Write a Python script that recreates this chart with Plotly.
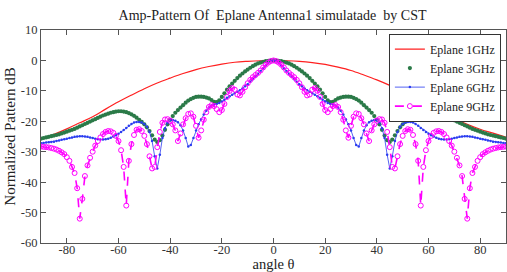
import plotly.graph_objects as go

# ---------------- data ----------------
theta = list(range(-90, 91))          # degrees, 1-degree sampling
red_theta = list(range(-90, 91, 5))   # 1 GHz sampled every 5 degrees

e1ghz = [-25.8, -24.3, -22.5, -20.5, -18.5, -16.0, -13.6, -11.4, -9.3, -7.4,
         -5.8, -4.3, -3.0, -2.0, -1.2, -0.6, -0.3, -0.1, 0.0,
         -0.1, -0.3, -0.7, -1.3, -2.2, -3.3, -4.8, -6.4, -8.2,
         -10.2, -12.3, -14.3, -16.4, -19.0, -21.0, -22.6, -23.9, -25.2]

e3ghz = [-25.7, -25.5, -25.3, -25.1, -24.9, -24.7, -24.5, -24.3, -24.0, -23.7,
         -23.4, -23.1, -22.8, -22.5, -22.1, -21.7, -21.3, -20.9, -20.5, -20.1,
         -19.7, -19.3, -18.9, -18.5, -18.1, -17.8, -17.5, -17.2, -17.0, -16.8,
         -16.7, -16.7, -16.8, -17.0, -17.3, -17.7, -18.2, -18.8, -19.5, -20.2,
         -21.0, -22.0, -23.2, -24.6, -26.0, -26.8, -26.2, -24.7, -22.8, -21.0,
         -19.5, -18.3, -17.2, -16.3, -15.5, -14.7, -13.9, -13.2, -12.7, -12.3,
         -12.0, -11.9, -11.9, -12.0, -12.2, -12.5, -13.0, -13.6, -13.7, -13.1,
         -12.0, -10.8, -9.6, -8.5, -7.6, -6.7, -5.8, -5.0, -4.3, -3.6,
         -3.0, -2.4, -1.9, -1.4, -1.0, -0.7, -0.45, -0.25, -0.1, -0.03,
         0.0,
         -0.03, -0.1, -0.25, -0.45, -0.7, -1.0, -1.4, -1.9, -2.4, -3.0,
         -3.6, -4.3, -5.0, -5.8, -6.7, -7.6, -8.5, -9.6, -10.8, -12.0,
         -13.1, -13.7, -13.6, -13.0, -12.5, -12.2, -12.0, -11.9, -11.9, -12.0,
         -12.3, -12.7, -13.2, -13.9, -14.7, -15.5, -16.3, -17.2, -18.3, -19.5,
         -21.0, -22.8, -24.7, -26.2, -26.8, -26.0, -24.6, -23.2, -22.0, -21.0,
         -20.2, -19.5, -18.8, -18.2, -17.7, -17.3, -17.0, -16.8, -16.7, -16.7,
         -16.8, -17.0, -17.2, -17.5, -17.8, -18.1, -18.5, -18.9, -19.3, -19.7,
         -20.1, -20.5, -20.9, -21.3, -21.7, -22.1, -22.5, -22.8, -23.1, -23.4,
         -23.7, -24.0, -24.3, -24.5, -24.7, -24.9, -25.1, -25.3, -25.5, -25.7]

e6ghz = [-27.2, -27.1, -27.0, -26.9, -26.8, -26.7, -26.5, -26.3, -26.1, -25.9,
         -25.7, -25.5, -25.3, -25.1, -25.0, -24.9, -24.9, -25.0, -25.1, -25.3,
         -25.5, -25.7, -25.9, -26.0, -26.0, -25.9, -25.7, -25.4, -25.0, -24.6,
         -24.1, -23.5, -22.9, -22.2, -21.5, -20.9, -20.4, -20.2, -20.2, -20.4,
         -20.9, -21.8, -23.5, -26.5, -31.5, -35.5, -31.0, -25.5, -22.3, -20.5,
         -19.7, -19.6, -19.8, -20.3, -21.3, -23.0, -25.5, -28.3, -27.8, -25.5,
         -23.0, -21.0, -19.3, -17.8, -16.5, -15.5, -14.8, -14.5, -14.3, -14.0,
         -13.5, -12.9, -12.3, -11.8, -11.3, -10.8, -10.3, -9.8, -9.2, -8.5,
         -7.8, -7.0, -6.2, -5.3, -4.4, -3.5, -2.6, -1.7, -0.8, -0.2,
         0.0,
         -0.2, -0.8, -1.7, -2.6, -3.5, -4.4, -5.3, -6.2, -7.0, -7.8,
         -8.5, -9.2, -9.8, -10.3, -10.8, -11.3, -11.8, -12.3, -12.9, -13.5,
         -14.0, -14.3, -14.5, -14.8, -15.5, -16.5, -17.8, -19.3, -21.0, -23.0,
         -25.5, -27.8, -28.3, -25.5, -23.0, -21.3, -20.3, -19.8, -19.6, -19.7,
         -20.5, -22.3, -25.5, -31.0, -35.5, -31.5, -26.5, -23.5, -21.8, -20.9,
         -20.4, -20.2, -20.2, -20.4, -20.9, -21.5, -22.2, -22.9, -23.5, -24.1,
         -24.6, -25.0, -25.4, -25.7, -25.9, -26.0, -26.0, -25.9, -25.7, -25.5,
         -25.3, -25.1, -25.0, -24.9, -24.9, -25.0, -25.1, -25.3, -25.5, -25.7,
         -25.9, -26.1, -26.3, -26.5, -26.7, -26.8, -26.9, -27.0, -27.1, -27.2]

e9ghz = [-28.3, -28.4, -28.5, -28.6, -28.8, -29.0, -29.3, -29.7, -30.2, -30.8,
         -31.8, -33.0, -35.0, -37.0, -42.0, -52.0, -45.5, -38.0, -34.5, -32.0,
         -30.0, -28.0, -26.5, -25.3, -24.2, -23.5, -23.2, -23.3, -23.8, -24.8,
         -26.5, -29.5, -35.0, -47.7, -33.0, -27.5, -24.5, -22.8, -22.6, -23.2,
         -24.8, -27.5, -31.5, -35.5, -35.0, -28.5, -23.5, -20.5, -19.4, -19.3,
         -19.8, -21.0, -23.0, -26.5, -24.0, -21.0, -19.0, -17.6, -17.4, -18.5,
         -21.5, -25.4, -23.0, -19.5, -17.0, -15.3, -14.7, -15.0, -16.0, -17.0,
         -16.3, -14.3, -12.0, -10.0, -9.1, -9.6, -11.2, -11.5, -10.3, -8.8,
         -7.5, -6.4, -5.5, -4.8, -4.1, -3.3, -2.3, -1.4, -0.7, -0.2,
         0.0,
         -0.2, -0.7, -1.4, -2.3, -3.3, -4.1, -4.8, -5.5, -6.4, -7.5,
         -8.8, -10.3, -11.5, -11.2, -9.6, -9.1, -10.0, -12.0, -14.3, -16.3,
         -17.0, -16.0, -15.0, -14.7, -15.3, -17.0, -19.5, -23.0, -25.4, -21.5,
         -18.5, -17.4, -17.6, -19.0, -21.0, -24.0, -26.5, -23.0, -21.0, -19.8,
         -19.3, -19.4, -20.5, -23.5, -28.5, -35.0, -35.5, -31.5, -27.5, -24.8,
         -23.2, -22.6, -22.8, -24.5, -27.5, -33.0, -47.7, -35.0, -29.5, -26.5,
         -24.8, -23.8, -23.3, -23.2, -23.5, -24.2, -25.3, -26.5, -28.0, -30.0,
         -32.0, -34.5, -38.0, -45.5, -52.0, -42.0, -37.0, -35.0, -33.0, -31.8,
         -30.8, -30.2, -29.7, -29.3, -29.0, -28.8, -28.6, -28.5, -28.4, -28.3]

x_ticks = [-80, -60, -40, -20, 0, 20, 40, 60, 80]
x_tick_labels = ["-80", "-60", "-40", "-20", "0", "20", "40", "60", "80"]
y_ticks = [-60, -50, -40, -30, -20, -10, 0, 10]
y_tick_labels = ["-60", "-50", "-40", "-30", "-20", "-10", "0", "10"]

FONT = "Liberation Serif"

fig = go.Figure()
fig.add_trace(go.Scatter(x=red_theta, y=e1ghz, mode="lines", name="Eplane 1GHz",
                         line=dict(color="#ff2020", width=1.2, shape="spline")))
fig.add_trace(go.Scatter(x=theta, y=e3ghz, mode="markers", name="Eplane 3GHz",
                         marker=dict(color="#2b7a48", size=4.2, symbol="circle")))
fig.add_trace(go.Scatter(x=theta, y=e6ghz, mode="lines+markers", name="Eplane 6GHz",
                         line=dict(color="#2a3cf0", width=0.8),
                         marker=dict(color="#2a3cf0", size=2.5, symbol="circle")))
fig.add_trace(go.Scatter(x=theta, y=e9ghz, mode="lines+markers", name="Eplane 9GHz",
                         line=dict(color="#ff00ff", width=1.6, dash="dash"),
                         marker=dict(color="#ff00ff", size=5, symbol="circle-open",
                                     line=dict(width=1, color="#ff00ff"))))

axis_common = dict(showgrid=False, zeroline=False, showline=True, linecolor="#555",
                   linewidth=1, mirror="ticks", ticks="inside", ticklen=5,
                   tickcolor="#555",
                   tickfont=dict(family=FONT, size=12.5, color="#333"))

fig.update_layout(
    width=507, height=272,
    margin=dict(l=41, r=1, t=30, b=29, autoexpand=False),
    paper_bgcolor="white", plot_bgcolor="white",
    title=dict(text="Amp-Pattern Of\u00a0 Eplane Antenna1 simulatade\u00a0 by CST",
               x=0.5375, xanchor="center", y=0.945, yanchor="middle",
               font=dict(family=FONT, size=14, color="#222")),
    xaxis=dict(range=[-90, 90], tickvals=x_ticks, ticktext=x_tick_labels,
               ticklabelstandoff=-5, automargin=True,
               title=dict(text="angle θ", font=dict(family=FONT, size=14.5, color="#222"),
                          standoff=1),
               **axis_common),
    yaxis=dict(range=[-60, 10], tickvals=y_ticks, ticktext=y_tick_labels,
               automargin=False,
               title=dict(text="Normalized Pattern dB",
                          font=dict(family=FONT, size=15, color="#222"), standoff=1),
               **axis_common),
    legend=dict(x=0.989, y=0.983, xanchor="right", yanchor="top",
                bgcolor="white", bordercolor="#333", borderwidth=1,
                font=dict(family=FONT, size=12, color="#222"),
                tracegroupgap=0, itemwidth=30),
    showlegend=True,
)

fig.write_html("out.html", config={"displayModeBar": False},
               post_script="document.body.style.margin='0';document.body.style.padding='0';")
